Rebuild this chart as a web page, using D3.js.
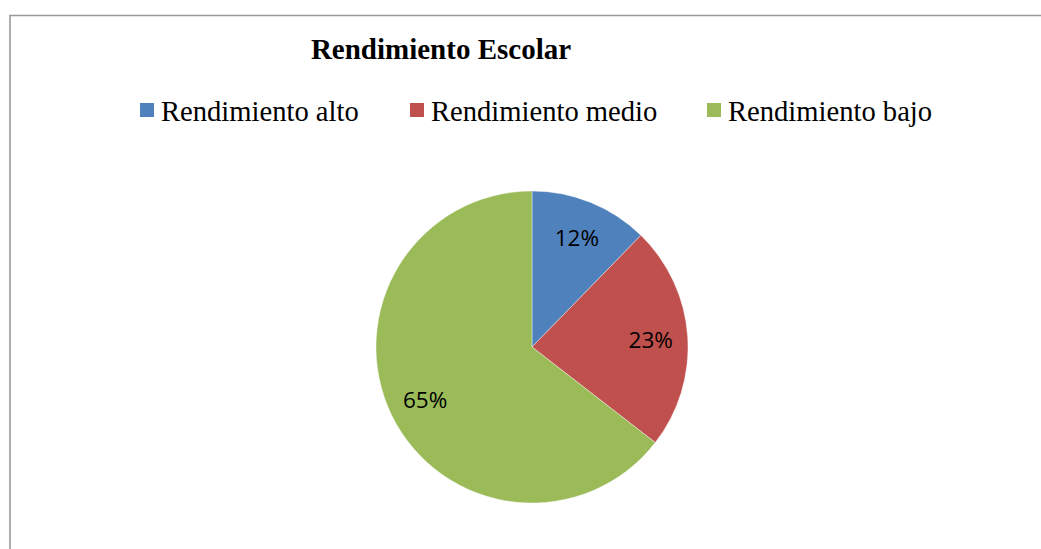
<!DOCTYPE html>
<html lang="es">
<head>
    <meta charset="UTF-8">
    <title>Rendimiento Escolar</title>
    <style>
        body { margin: 0; background: #fff; }
        svg { display: block; }
    </style>
</head>
<body>
    <div id="chart"></div>
    <script src="https://d3js.org/d3.v7.min.js"></script>
    <script>
        // Data (shares; labels show them rounded)
        const categories = ["Rendimiento alto", "Rendimiento medio", "Rendimiento bajo"];
        const values = [12.3, 23.2, 64.5];
        const colors = ["#4F81BD", "#C0504D", "#9BBB59"];

        const width = 1041, height = 549;

        const svg = d3.select("#chart")
            .append("svg")
            .attr("width", width)
            .attr("height", height);

        // Chart frame (right and bottom edges are off the picture)
        svg.append("path")
            .attr("d", `M10,${height + 5} V15.5 H${width + 5}`)
            .attr("fill", "none")
            .attr("stroke", "#999")
            .attr("stroke-width", 1.6);

        // Title
        svg.append("text")
            .attr("x", 441)
            .attr("y", 59)
            .attr("text-anchor", "middle")
            .style("font-family", "'Liberation Serif', 'Times New Roman', serif")
            .style("font-weight", "bold")
            .style("font-size", "29px")
            .text("Rendimiento Escolar");

        // Legend
        const legendX = [140, 410, 707];
        const legend = svg.append("g")
            .selectAll("g")
            .data(categories)
            .join("g")
            .attr("transform", (d, i) => `translate(${legendX[i]},0)`);

        legend.append("rect")
            .attr("x", 0)
            .attr("y", 103)
            .attr("width", 14)
            .attr("height", 14)
            .attr("fill", (d, i) => colors[i]);

        legend.append("text")
            .attr("x", 21)
            .attr("y", 121)
            .style("font-family", "'Liberation Serif', 'Times New Roman', serif")
            .style("font-size", "28.6px")
            .attr("fill", "#000")
            .text(d => d);

        // Pie
        const radius = 156;
        const pie_group = svg.append("g")
            .attr("transform", "translate(532,347)");

        const pie = d3.pie().sort(null).value(d => d);
        const arcs = pie(values);

        const arc = d3.arc().innerRadius(0).outerRadius(radius);
        const labelArc = d3.arc().innerRadius(119).outerRadius(119);

        pie_group.selectAll("path")
            .data(arcs)
            .join("path")
            .attr("d", arc)
            .attr("fill", (d, i) => colors[i])
            .attr("stroke", "#fff")
            .attr("stroke-width", 0.4);

        const total = d3.sum(values);
        pie_group.selectAll("text")
            .data(arcs)
            .join("text")
            .attr("transform", d => `translate(${labelArc.centroid(d)})`)
            .attr("text-anchor", "middle")
            .attr("dy", "0.4em")
            .style("font-family", "'Open Sans', Lato, sans-serif")
            .style("font-size", "22.5px")
            .attr("fill", "#000")
            .text(d => Math.round(d.data / total * 100) + "%");
    </script>
</body>
</html>
